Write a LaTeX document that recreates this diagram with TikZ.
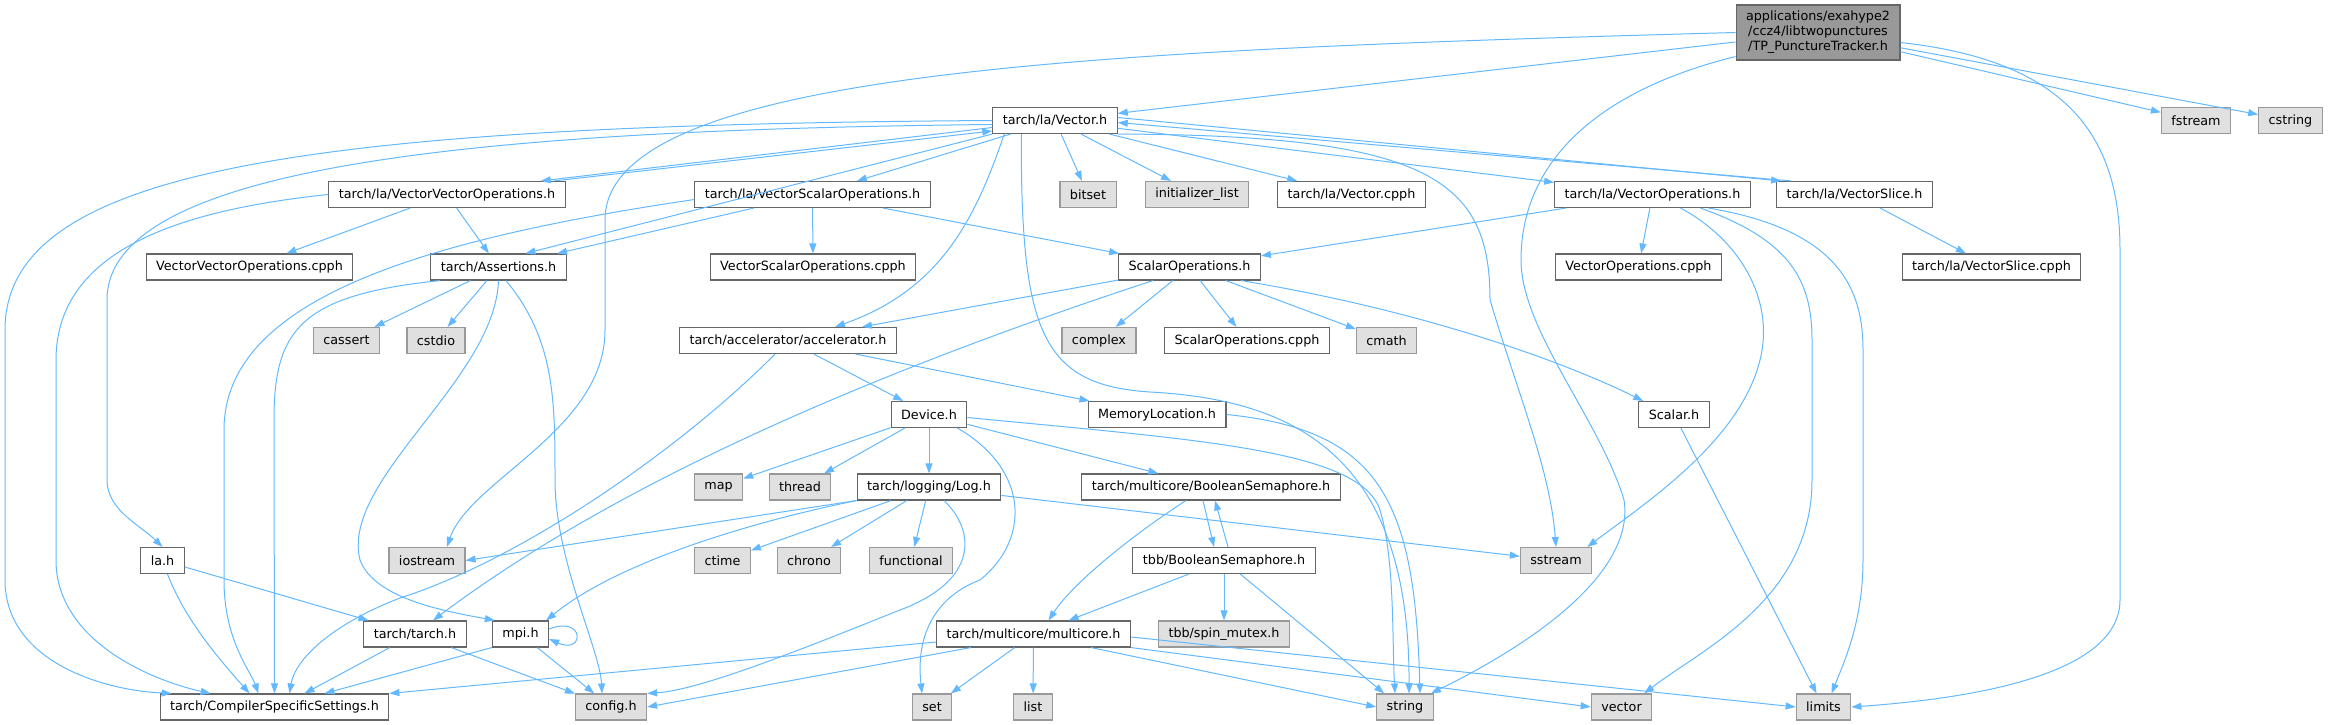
\documentclass[tikz,border=0pt]{standalone}
\usepackage{fontspec}
\setmainfont{DejaVu Sans}
\usetikzlibrary{arrows.meta}

\definecolor{edgeblue}{HTML}{63B8FF}
\definecolor{boxgray}{HTML}{666666}
\definecolor{sysgray}{HTML}{999999}
\definecolor{sysfill}{HTML}{E0E0E0}

\begin{document}
\begin{tikzpicture}[x=1pt,y=-1pt,
  hdr/.style={draw=boxgray,fill=white,line width=1.1pt,minimum height=26pt,
    inner xsep=10pt,inner ysep=2pt,font=\fontsize{12.75}{15}\selectfont},
  syshdr/.style={hdr,draw=sysgray,fill=sysfill},
  incl/.style={draw=edgeblue,line width=1pt,-{Triangle[length=10pt,width=7pt]}}]

  % Canvas
  \useasboundingbox (0,0) rectangle (2329,725);

  % Top file
  \node[hdr,fill=sysgray,minimum height=55pt,align=center] (tp) at (1818,32.5)
    {applications/exahype2\\/ccz4/libtwopunctures\\/TP\_PunctureTracker.h};

  % Row 1
  \node[hdr] (vec) at (1055,120.5) {tarch/la/Vector.h};
  \node[syshdr] (fstream) at (2196,120.5) {fstream};
  \node[syshdr] (cstring) at (2290.5,120.5) {cstring};

  % Row 2
  \node[hdr] (vvo) at (447,194.5) {tarch/la/VectorVectorOperations.h};
  \node[hdr] (vso) at (812.5,194.5) {tarch/la/VectorScalarOperations.h};
  \node[syshdr] (bitset) at (1088,194.5) {bitset};
  \node[syshdr] (initlist) at (1197,194.5) {initializer\_list};
  \node[hdr] (veccpph) at (1351.5,194.5) {tarch/la/Vector.cpph};
  \node[hdr] (vecops) at (1652.5,194.5) {tarch/la/VectorOperations.h};
  \node[hdr] (slice) at (1854.5,194.5) {tarch/la/VectorSlice.h};

  % Row 3
  \node[hdr] (vvocpph) at (249.5,267) {VectorVectorOperations.cpph};
  \node[hdr] (assert) at (498.5,267) {tarch/Assertions.h};
  \node[hdr] (vsocpph) at (813,267) {VectorScalarOperations.cpph};
  \node[hdr] (scalarops) at (1189.5,267) {ScalarOperations.h};
  \node[hdr] (vecopscpph) at (1638.5,267) {VectorOperations.cpph};
  \node[hdr] (slicecpph) at (1991.5,267) {tarch/la/VectorSlice.cpph};

  % Row 4
  \node[syshdr] (cassert) at (346.5,340.5) {cassert};
  \node[syshdr] (cstdio) at (436,340.5) {cstdio};
  \node[hdr] (accel) at (788,340.5) {tarch/accelerator/accelerator.h};
  \node[syshdr] (complex) at (1099,340.5) {complex};
  \node[hdr] (scalarcpph) at (1247,340.5) {ScalarOperations.cpph};
  \node[syshdr] (cmath) at (1386.5,340.5) {cmath};

  % Row 5
  \node[hdr] (device) at (929,414.5) {Device.h};
  \node[hdr] (memloc) at (1157,414.5) {MemoryLocation.h};
  \node[hdr] (scalar) at (1674,414.5) {Scalar.h};

  % Row 6
  \node[syshdr] (map) at (718.5,487) {map};
  \node[syshdr] (thread) at (800,487) {thread};
  \node[hdr] (log) at (929,487) {tarch/logging/Log.h};
  \node[hdr] (boolsem) at (1211,487) {tarch/multicore/BooleanSemaphore.h};

  % Row 7
  \node[hdr] (lah) at (162.5,560.5) {la.h};
  \node[syshdr] (iostream) at (427,560.5) {iostream};
  \node[syshdr] (ctime) at (722.5,560.5) {ctime};
  \node[syshdr] (chrono) at (809,560.5) {chrono};
  \node[syshdr] (functional) at (911,560.5) {functional};
  \node[hdr] (tbbsem) at (1224,560.5) {tbb/BooleanSemaphore.h};
  \node[syshdr] (sstream) at (1556,560.5) {sstream};

  % Row 8
  \node[hdr] (tarchh) at (415,634) {tarch/tarch.h};
  \node[hdr] (mpi) at (520.5,634) {mpi.h};
  \node[hdr] (multicore) at (1033.5,634) {tarch/multicore/multicore.h};
  \node[syshdr] (spinmutex) at (1224,634) {tbb/spin\_mutex.h};

  % Row 9
  \node[hdr] (css) at (274.5,707) {tarch/CompilerSpecificSettings.h};
  \node[syshdr] (config) at (611,707) {config.h};
  \node[syshdr] (set) at (932,707) {set};
  \node[syshdr] (list) at (1033,707) {list};
  \node[syshdr] (string) at (1405,707) {string};
  \node[syshdr] (vector) at (1621.5,707) {vector};
  \node[syshdr] (limits) at (1823.5,707) {limits};

  % Includes of the top file
  \draw[incl] (tp) -- (vec);
  \draw[incl] (tp) -- (fstream);
  \draw[incl] (tp) -- (cstring);
  \draw[incl] (tp.west) .. controls (1100,50) and (605,70) .. (605,220) -- (605,330)
    .. controls (605,430) and (470,480) .. ([xshift=20pt]iostream.north);
  \draw[incl] ([yshift=4pt]tp.south west) .. controls (1600,90) and (1521,160) .. (1521,260)
    .. controls (1521,330) and (1600,420) .. (1624,500)
    .. controls (1635,570) and (1540,640) .. ([xshift=-3pt]string.north east);
  \draw[incl] ([yshift=-10pt]tp.east) .. controls (2060,60) and (2120,130) .. (2120,250) -- (2120,600)
    .. controls (2120,680) and (1950,700) .. (limits.east);

  % Vector.h
  \draw[incl] (vec.west) .. controls (300,125) and (5,170) .. (5,330) -- (5,580)
    .. controls (5,660) and (100,690) .. ([xshift=12pt]css.north west);
  \draw[incl] ([yshift=-4pt]vec.west) .. controls (450,130) and (107,170) .. (107,300) -- (107,480)
    .. controls (107,510) and (140,525) .. (lah.north);
  \draw[incl] ([yshift=-7pt]vec.west) -- ([xshift=-25pt]vvo.north east);
  \draw[incl] (vec.south west) -- ([xshift=27pt]assert.north);
  \draw[incl] (vec) -- (vso);
  \draw[incl] (vec) -- (bitset);
  \draw[incl] (vec) -- (initlist);
  \draw[incl] (vec) -- (veccpph);
  \draw[incl] (vec) -- (vecops);
  \draw[incl] ([yshift=3pt]vec.east) -- ([xshift=5pt]slice.north west);
  \draw[incl] ([xshift=12pt]vec.south west) .. controls (975,220) and (940,290) .. ([xshift=47pt]accel.north);
  \draw[incl] ([xshift=29pt]vec.south west) .. controls (1021,330) and (1040,385) .. (1150,392)
    .. controls (1300,400) and (1410,460) .. ([xshift=4pt]string.north);
  \draw[incl] (vec.south east) .. controls (1430,135) and (1490,180) .. (1490,300)
    .. controls (1520,400) and (1550,470) .. (sstream.north);

  % VectorVectorOperations.h
  \draw[incl] ([xshift=-12pt]vvo.north east) -- ([yshift=-10.5pt]vec.west);
  \draw[incl] (vvo.west) .. controls (180,210) and (56,250) .. (56,360) -- (56,560)
    .. controls (56,640) and (150,680) .. ([xshift=51pt]css.north west);
  \draw[incl] (vvo) -- (vvocpph);
  \draw[incl] (vvo) -- (assert);

  % VectorScalarOperations.h
  \draw[incl] (vso) -- (vsocpph);
  \draw[incl] (vso) -- (assert);
  \draw[incl] (vso) -- (scalarops);
  \draw[incl] ([yshift=-5pt]vso.west) .. controls (420,240) and (224,300) .. (224,430) -- (224,580)
    .. controls (224,640) and (250,670) .. ([xshift=-16pt]css.north);

  % VectorOperations.h
  \draw[incl] (vecops) -- (scalarops);
  \draw[incl] (vecops) -- (vecopscpph);
  \draw[incl] ([xshift=28pt]vecops.south) .. controls (1740,240) and (1775,300) .. (1760,360)
    .. controls (1740,440) and (1650,500) .. ([xshift=-5pt]sstream.north east);
  \draw[incl] ([xshift=48pt]vecops.south) .. controls (1790,240) and (1812,280) .. (1812,340) -- (1812,480)
    .. controls (1812,600) and (1700,650) .. ([xshift=-8pt]vector.north east);
  \draw[incl] ([xshift=56pt]vecops.south) .. controls (1840,230) and (1863,290) .. (1863,350) -- (1863,560)
    .. controls (1863,620) and (1845,660) .. ([xshift=8pt]limits.north);

  % VectorSlice.h
  \draw[incl] ([xshift=15pt]slice.north west) -- ([yshift=-2pt]vec.east);
  \draw[incl] (slice) -- (slicecpph);

  % Assertions.h
  \draw[incl] (assert) -- (cassert);
  \draw[incl] (assert) -- (cstdio);
  \draw[incl] ([xshift=10pt]assert.south west) .. controls (300,295) and (274,330) .. (274,420) -- (css.north);
  \draw[incl] (assert.south) .. controls (495,380) and (340,480) .. (360,560)
    .. controls (375,600) and (450,612) .. ([xshift=3pt]mpi.north west);
  \draw[incl] ([xshift=7.5pt]assert.south) .. controls (555,340) and (555,400) .. (555,480)
    .. controls (555,560) and (600,650) .. ([xshift=-9pt]config.north);

  % ScalarOperations.h
  \draw[incl] (scalarops) -- (accel);
  \draw[incl] ([xshift=35pt]scalarops.south west) .. controls (880,370) and (620,480) .. ([xshift=18pt]tarchh.north);
  \draw[incl] (scalarops) -- (complex);
  \draw[incl] (scalarops) -- (scalarcpph);
  \draw[incl] (scalarops) -- (cmath);
  \draw[incl] ([xshift=-20pt]scalarops.south east) .. controls (1420,310) and (1560,360) .. ([xshift=5pt]scalar.north west);

  % accelerator.h
  \draw[incl] (accel) -- (device);
  \draw[incl] (accel) -- (memloc);
  \draw[incl] ([xshift=-13pt]accel.south) .. controls (680,450) and (520,560) .. (400,598)
    .. controls (330,625) and (295,660) .. ([xshift=15pt]css.north);

  % Device.h
  \draw[incl] (device) -- (map);
  \draw[incl] (device) -- (thread);
  \draw[incl] (device) -- (log);
  \draw[incl] (device) -- (boolsem);
  \draw[incl] ([xshift=-10pt]device.south east) .. controls (1030,470) and (1030,540) .. (980,580)
    .. controls (940,595) and (915,630) .. ([xshift=-10pt]set.north);
  \draw[incl] ([yshift=-3pt]device.east) .. controls (1200,440) and (1360,450) .. (1380,510)
    .. controls (1395,560) and (1392,640) .. ([xshift=-10pt]string.north);

  % MemoryLocation.h, Scalar.h
  \draw[incl] (memloc.east) .. controls (1380,430) and (1415,500) .. ([xshift=15pt]string.north);
  \draw[incl] (scalar) -- (limits);

  % Log.h
  \draw[incl] (log.south west) -- (iostream.east);
  \draw[incl] (log) -- (ctime);
  \draw[incl] (log) -- (chrono);
  \draw[incl] (log) -- (functional);
  \draw[incl] (log) -- (sstream);
  \draw[incl] (log.south west) .. controls (760,520) and (620,560) .. ([xshift=-3pt]mpi.north east);
  \draw[incl] ([xshift=15pt]log.south) .. controls (975,530) and (980,580) .. (900,610)
    .. controls (800,650) and (700,690) .. (config.north east);

  % BooleanSemaphore.h (multicore and tbb)
  \draw[incl] ([xshift=-8pt]boolsem.south) -- ([xshift=-10pt]tbbsem.north);
  \draw[incl] ([xshift=-25pt]boolsem.south) .. controls (1140,530) and (1075,580) .. ([xshift=15pt]multicore.north);
  \draw[incl] ([xshift=4pt]tbbsem.north) -- ([xshift=4pt]boolsem.south);
  \draw[incl] (tbbsem) -- (multicore);
  \draw[incl] (tbbsem) -- (spinmutex);
  \draw[incl] (tbbsem) -- ([xshift=8pt]string.north west);

  % la.h, tarch.h, mpi.h
  \draw[incl] (lah) -- (tarchh);
  \draw[incl] ([xshift=5pt]lah.south) .. controls (185,620) and (220,660) .. ([xshift=-25pt]css.north);
  \draw[incl] (tarchh) -- ([xshift=30pt]css.north);
  \draw[incl] (tarchh) -- (config);
  \draw[incl] ([yshift=5pt]mpi.east) .. controls (585,615) and (585,655) .. ([yshift=-5pt]mpi.east);
  \draw[incl] (mpi.south west) -- ([xshift=50pt]css.north);
  \draw[incl] (mpi) -- (config);

  % multicore.h
  \draw[incl] ([yshift=-8pt]multicore.west) -- (css.north east);
  \draw[incl] ([xshift=35pt]multicore.south west) -- (config.east);
  \draw[incl] (multicore) -- (set);
  \draw[incl] (multicore) -- (list);
  \draw[incl] ([xshift=-40pt]multicore.south east) -- (string.west);
  \draw[incl] (multicore.south east) -- (vector.west);
  \draw[incl] ([yshift=-3pt]multicore.east) -- (limits.west);
\end{tikzpicture}
\end{document}
